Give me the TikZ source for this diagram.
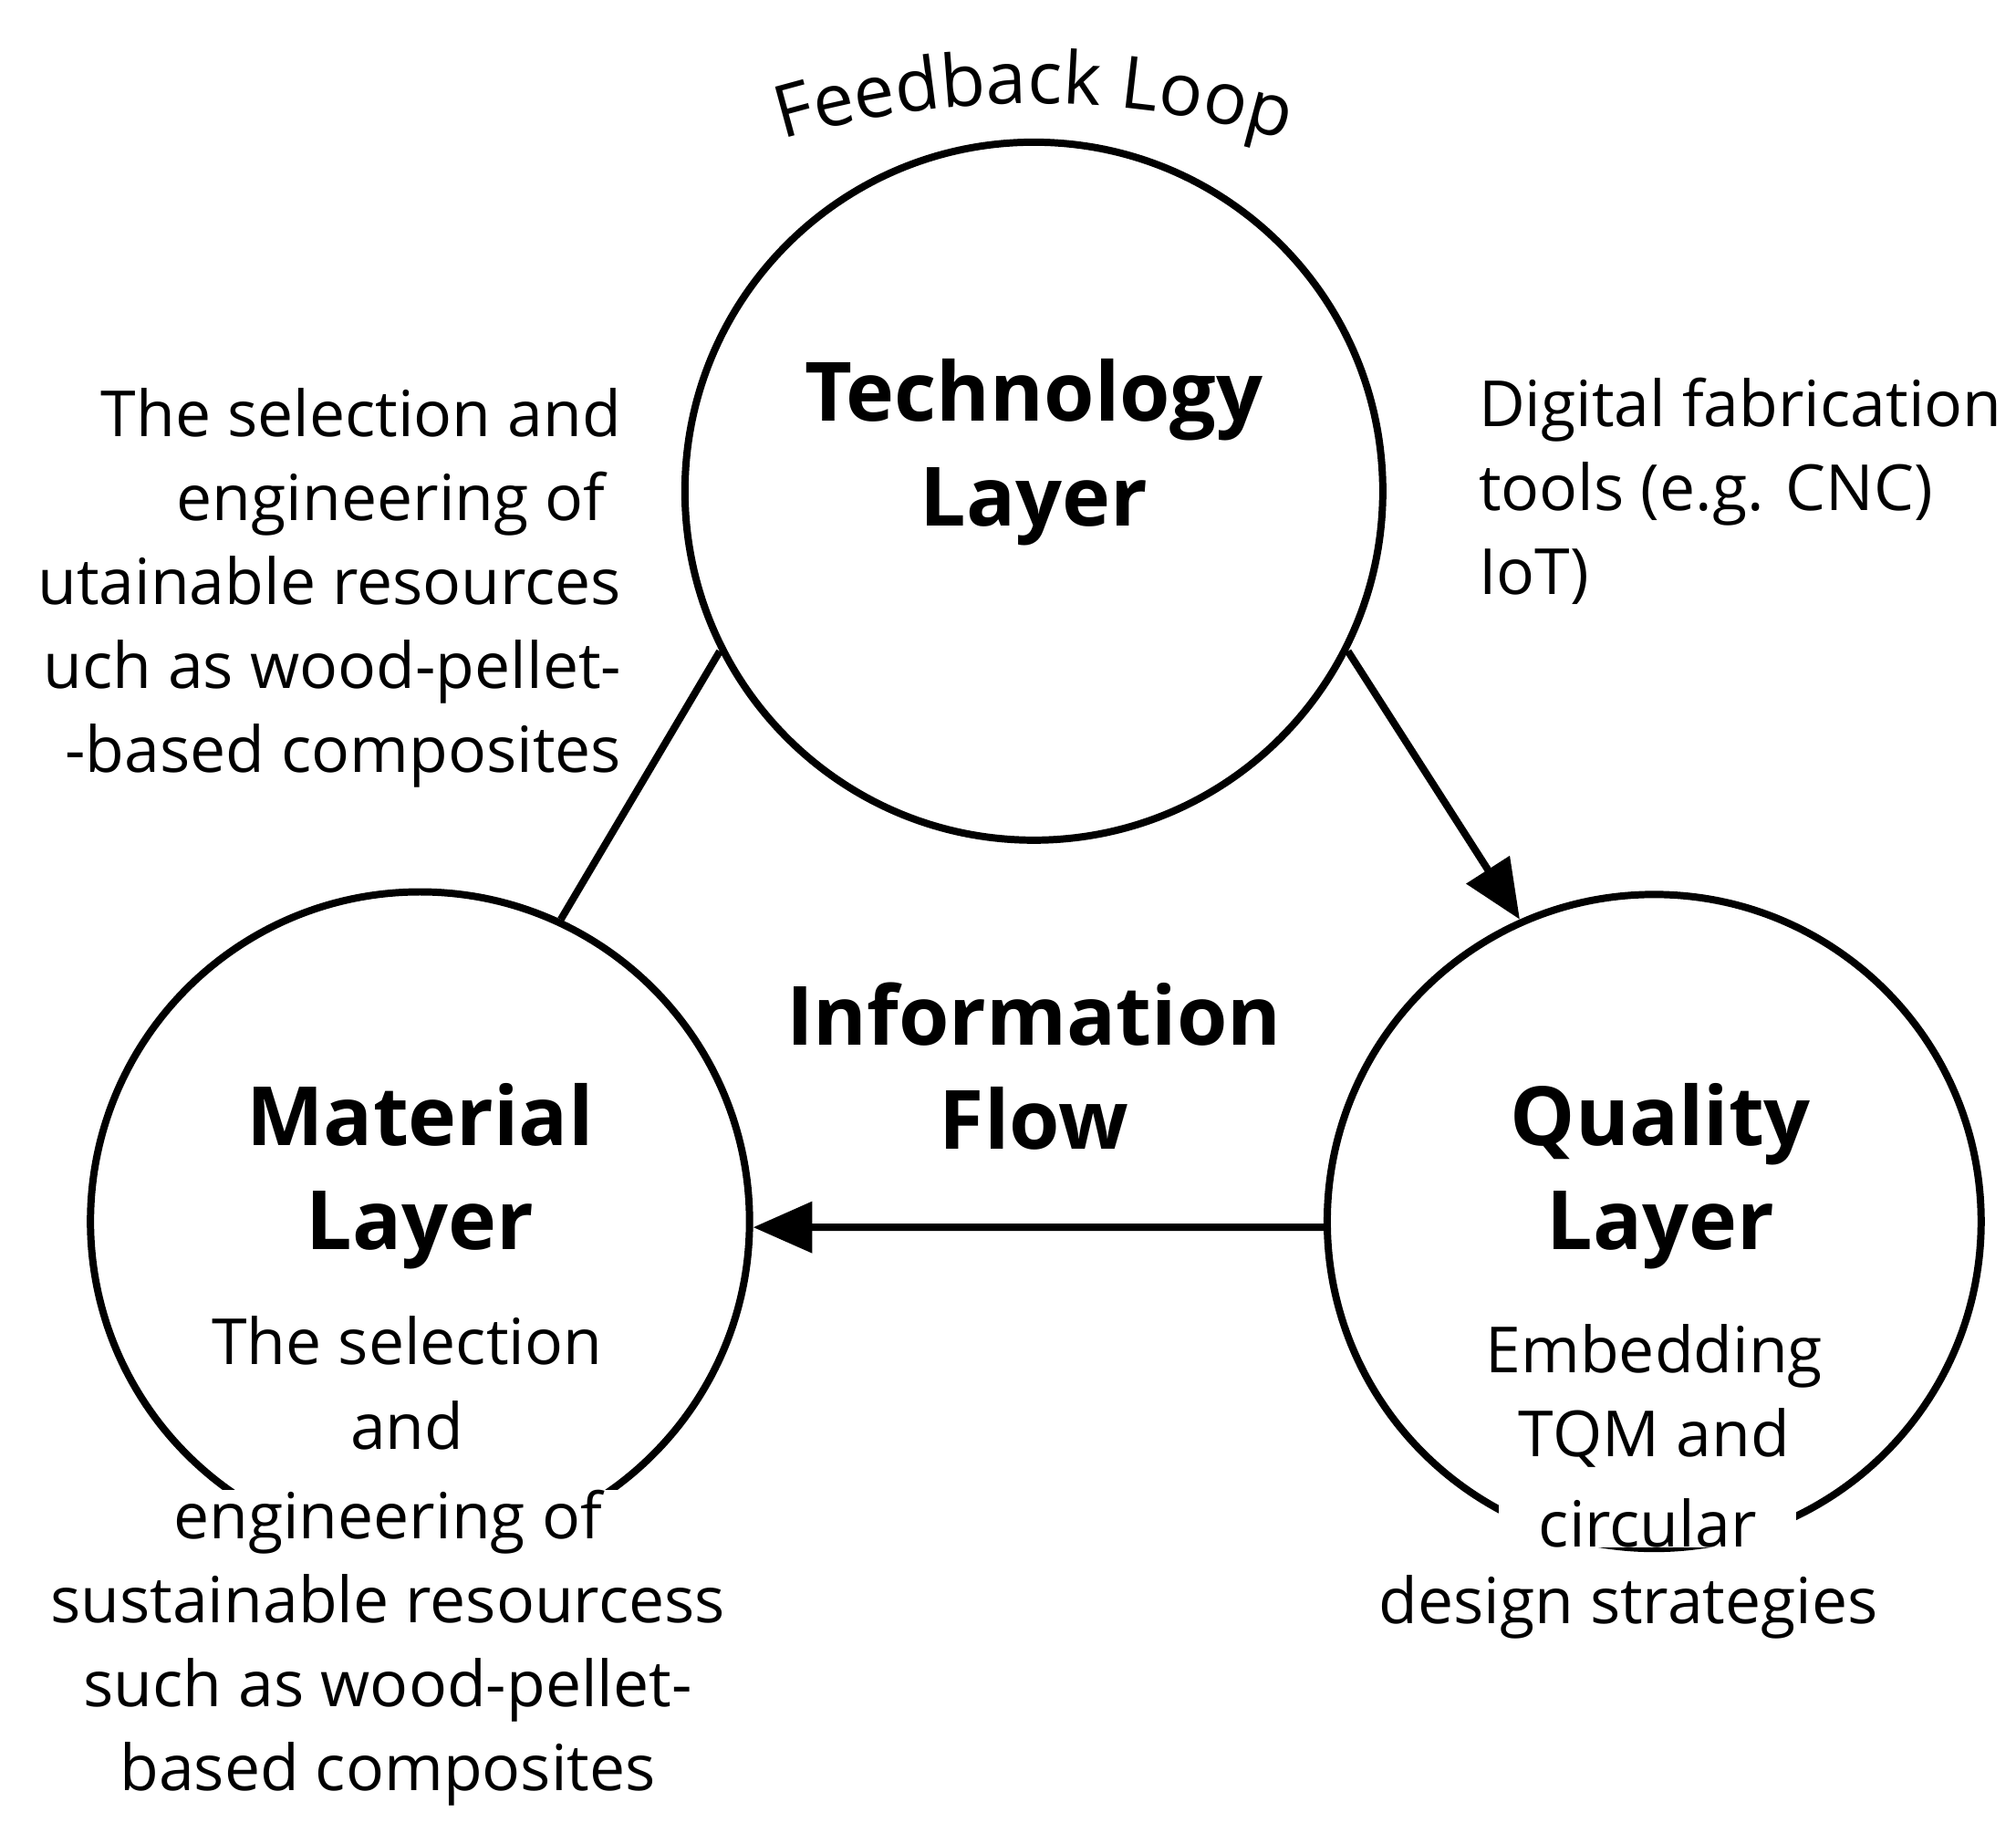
\documentclass[tikz,border=0pt]{standalone}
\usepackage{fontspec}
\setmainfont{Open Sans}
\usetikzlibrary{decorations.text,arrows.meta}
\begin{document}
\begin{tikzpicture}
        [
        align=center,
        layer/.style={circle, draw=black, line width=1.6pt, minimum size=#1},
        title/.style={font=\fontsize{18}{23}\selectfont\bfseries},
        body/.style={font=\fontsize{14}{18.5}\selectfont, inner sep=1pt},
        link/.style={line width=1.6pt},
        ]
                \useasboundingbox (0,0) rectangle (15.6,-14.18);
                % circles
                \node[layer=5.4cm] (tech) at (8.00,-3.80) {};
                \node[layer=5.1cm] (mat) at (3.25,-9.45) {};
                \node[layer=5.06cm] (qual) at (12.80,-9.45) {};

                % titles
                \node[title] (techT) at (8.00,-3.50) {Technology\\Layer};
                \node[title] (matT) at (3.25,-9.10) {Material\\Layer};
                \node[title] (qualT) at (12.85,-9.10) {Quality\\Layer};
                \node[title] (info) at (8.00,-8.25) {Information\\Flow};

                % texts
                \node[body, align=right, anchor=east] (techL) at (4.85,-4.55)
                  {The selection and\\engineering of\phantom{i}\\utainable resources\\uch as wood-pellet-\\-based composites};
                \node[body, align=left, anchor=west] (techR) at (11.40,-3.80)
                  {Digital fabrication\\tools (e.g. CNC)\\IoT)};
                \node[body] (matA) at (3.15,-10.70) {The selection\\and};
                \node[body, fill=white, inner ysep=0pt] (matB) at (3.00,-12.75)
                  {engineering of\\sustainable resourcess\\such as wood-pellet-\\based composites};
                \node[body] (qualA) at (12.80,-10.80) {Embedding\\TQM and};
                \node[body, fill=white, inner ysep=0pt, minimum width=2.3cm] (qualB) at (12.75,-11.78) {circular};
                \node[body, fill=white, inner ysep=0pt] (qualC) at (12.60,-12.43) {design strategies};

                % feedback loop
                \path[decorate, decoration={text along path, text align=center,
                  text={|\fontsize{16}{20}\selectfont|Feedback Loop}}]
                  (8.00,-7.70) ++(111:6.9) arc (111:69:6.9);

                % drawing code
                \draw[link] (tech.207) -- (mat.65);
                \draw[link, -{Triangle[length=13pt, width=11pt]}] (tech.-27) -- (qual.114);
                \draw[link, -{Triangle[length=13pt, width=11pt]}] (qual.181) -- (mat.-1.5);
\end{tikzpicture}
\end{document}
